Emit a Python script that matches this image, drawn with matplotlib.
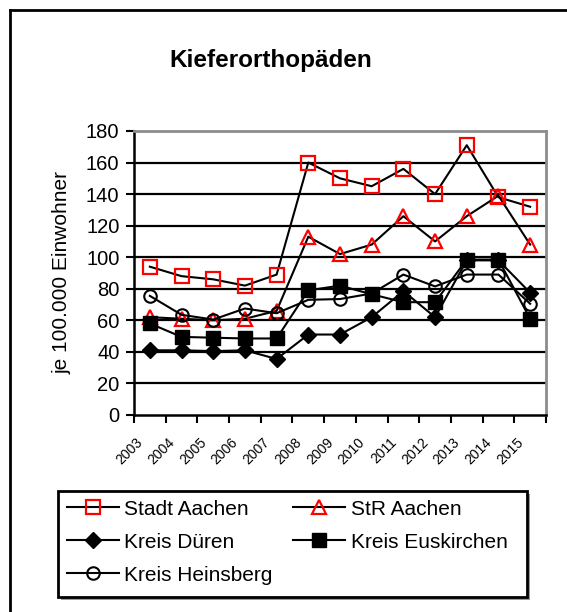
import matplotlib
matplotlib.use("Agg")
import matplotlib.pyplot as plt
from matplotlib.lines import Line2D
from matplotlib.patches import Rectangle
import matplotlib.transforms as mtransforms

plt.rcParams['font.family'] = ['Liberation Sans', 'DejaVu Sans']

years = ["2003", "2004", "2005", "2006", "2007", "2008", "2009",
         "2010", "2011", "2012", "2013", "2014", "2015"]

stadt_aachen = [94, 88, 86, 82, 89, 160, 150, 145, 156, 140, 171, 138, 132]
str_aachen = [62, 61, 60, 61, 66, 113, 102, 108, 126, 110, 126, 139, 108]
kreis_dueren = [41, 41, 40.5, 41, 35.5, 51, 51, 62, 78.5, 62, 98, 98, 77.5]
kreis_euskirchen = [58, 49.5, 49, 48.5, 48.5, 79, 82, 76.5, 71.5, 71.5, 98.5, 98.5, 61]
kreis_heinsberg = [75.5, 63.5, 60.5, 67.5, 64.5, 73, 73.5, 77, 89, 81.5, 89, 89, 70.5]

series_names = ["Stadt Aachen", "StR Aachen", "Kreis Düren",
                "Kreis Euskirchen", "Kreis Heinsberg"]

W, H = 567, 612
fig = plt.figure(figsize=(W / 100, H / 100), dpi=100)


def fx(px):
    return px / W


def fy(py):
    return 1 - py / H


# outer chart frame (top and left edges)
fig.add_artist(Line2D([fx(10), 1.0], [fy(10), fy(10)],
                      transform=fig.transFigure, color='black', lw=2))
fig.add_artist(Line2D([fx(10), fx(10)], [0, fy(10)],
                      transform=fig.transFigure, color='black', lw=2))

ax = fig.add_axes([fx(134), fy(415), fx(546) - fx(134), fy(131) - fy(415)])

x = list(range(len(years)))
styles = [
    dict(marker='s', ms=9.5, mfc='none', mec='red', mew=1.6),
    dict(marker='^', ms=10, mfc='none', mec='red', mew=1.6),
    dict(marker='D', ms=8, mfc='black', mec='black', mew=1),
    dict(marker='s', ms=10.5, mfc='black', mec='black', mew=1),
    dict(marker='o', ms=9, mfc='none', mec='black', mew=1.5),
]
data = [stadt_aachen, str_aachen, kreis_dueren, kreis_euskirchen, kreis_heinsberg]
handles = []
for vals, name, st in zip(data, series_names, styles):
    h, = ax.plot(x, vals, color='black', lw=1.5, label=name, zorder=3, **st)
    handles.append(h)

ax.set_xlim(-0.5, len(years) - 0.5)
ax.set_ylim(0, 180)
ax.set_yticks(range(0, 181, 20))
ax.tick_params(axis='y', labelsize=14.5, direction='out', length=5.5, width=1.5, pad=5)
ax.set_xticks([i - 0.5 for i in range(len(years) + 1)], minor=False)
ax.set_xticklabels([])
ax.set_xticks(x, minor=True)
ax.set_xticklabels(years, minor=True, rotation=45, ha='right', va='center',
                   rotation_mode='anchor', fontsize=10)
ax.tick_params(axis='x', which='major', direction='out', length=5.5, width=1.5)
ax.tick_params(axis='x', which='minor', length=0, pad=18)
shift = mtransforms.ScaledTranslation(-9 / 100, 0, fig.dpi_scale_trans)
for lbl in ax.get_xticklabels(minor=True):
    lbl.set_transform(lbl.get_transform() + shift)

for yv in range(20, 180, 20):
    ax.axhline(yv, color='black', lw=1.6, zorder=1)

for s in ['left', 'bottom']:
    ax.spines[s].set_color('black')
    ax.spines[s].set_linewidth(1.8)
for s in ['top', 'right']:
    ax.spines[s].set_color('#8c8c8c')
    ax.spines[s].set_linewidth(2)

ax.set_ylabel("je 100.000 Einwohner", fontsize=15, labelpad=10)

fig.text(fx(271), fy(60), "Kieferorthopäden", ha='center', va='center',
         fontsize=17.5, fontweight='bold')

# legend box with drop shadow
lx0, ly0, lx1, ly1 = 58, 491, 527, 597
fig.add_artist(Rectangle((fx(lx0 + 3), fy(ly1 + 3)), fx(lx1) - fx(lx0), fy(ly0) - fy(ly1),
                         transform=fig.transFigure, facecolor='#999999',
                         edgecolor='none', zorder=4))
fig.add_artist(Rectangle((fx(lx0), fy(ly1)), fx(lx1) - fx(lx0), fy(ly0) - fy(ly1),
                         transform=fig.transFigure, facecolor='white',
                         edgecolor='black', lw=2, zorder=5))

# legend entries ordered so that the two columns read row by row
order = [0, 2, 4, 1, 3]
leg = fig.legend(handles=[handles[i] for i in order], loc='upper left', ncol=2,
                 bbox_to_anchor=(fx(lx0), fy(ly0)),
                 fontsize=15, frameon=False,
                 handlelength=2.5, handletextpad=0.25, borderpad=0.42,
                 labelspacing=0.67, columnspacing=1.0, borderaxespad=0)
leg.set_zorder(6)

fig.savefig("out.png", dpi=100)
